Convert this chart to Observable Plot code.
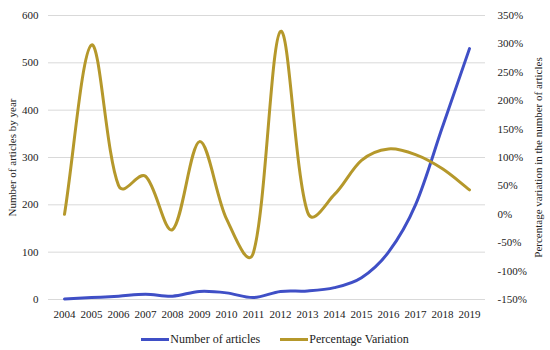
<!DOCTYPE html>
<html>
<head>
<meta charset="utf-8">
<script src="https://cdn.jsdelivr.net/npm/d3@7"></script>
<script src="https://cdn.jsdelivr.net/npm/@observablehq/plot@0.6"></script>
<style>
  html, body { margin: 0; padding: 0; background: #fff; }
  #chart { width: 550px; height: 350px; position: relative; font-family: "Liberation Serif", "DejaVu Serif", serif; }
  #chart svg, #chart svg text { font-family: "Liberation Serif", "DejaVu Serif", serif !important; }
  .legend { display: flex; justify-content: center; align-items: center; height: 22px; font-size: 12px; color: #222; gap: 20px; }
  .legend .item { display: flex; align-items: center; }
  .legend .sw { display: inline-block; width: 28px; height: 3px; margin-right: 1px; }
</style>
</head>
<body>
<div id="chart"></div>
<script>
const years = ["2004","2005","2006","2007","2008","2009","2010","2011","2012","2013","2014","2015","2016","2017","2018","2019"];
const articles = [1, 4, 7, 11, 7, 17, 14, 4, 17, 18, 25, 46, 100, 200, 365, 530];
const pctVariation = [0, 298, 51, 67, -27, 128, -8, -67, 322, 4, 35, 95, 115, 105, 80, 43];
const leftTicks = [0, 100, 200, 300, 400, 500, 600];
const rightTicks = [-150, -100, -50, 0, 50, 100, 150, 200, 250, 300, 350];
const seriesNames = ["Number of articles", "Percentage Variation"];
const colors = ["#3F4FC6", "#B5982B"];

// map right-axis percentage onto the left scale domain [0, 600]
const pctToLeft = p => (p + 150) / 500 * 600;
const leftToPct = v => v / 600 * 500 - 150;

// spreadsheet-style smoothed line: Bezier segments whose tangents follow the
// neighbouring points, with handle lengths weighted by segment lengths
function smoothCurve(context) {
  let pts = [];
  return {
    areaStart() {}, areaEnd() {},
    lineStart() { pts = []; },
    point(x, y) { pts.push([+x, +y]); },
    lineEnd() {
      const n = pts.length;
      if (!n) return;
      context.moveTo(pts[0][0], pts[0][1]);
      const dist = (a, b) => Math.sqrt(Math.hypot(b[0] - a[0], b[1] - a[1]));
      for (let i = 0; i < n - 1; i++) {
        const p0 = pts[Math.max(i - 1, 0)], p1 = pts[i], p2 = pts[i + 1], p3 = pts[Math.min(i + 2, n - 1)];
        const d01 = dist(p0, p1), d12 = dist(p1, p2), d23 = dist(p2, p3);
        const f1 = d12 / ((d01 + d12) || 1) / 3, f2 = d12 / ((d12 + d23) || 1) / 3;
        context.bezierCurveTo(
          p1[0] + (p2[0] - p0[0]) * f1, p1[1] + (p2[1] - p0[1]) * f1,
          p2[0] - (p3[0] - p1[0]) * f2, p2[1] - (p3[1] - p1[1]) * f2,
          p2[0], p2[1]);
      }
    }
  };
}

const artData = years.map((y, i) => ({year: y, value: articles[i]}));
const pctData = years.map((y, i) => ({year: y, value: pctToLeft(pctVariation[i])}));

const plot = Plot.plot({
  width: 550,
  height: 328,
  marginTop: 15,
  marginBottom: 29,
  marginLeft: 48,
  marginRight: 65,
  style: {fontSize: "11px", color: "#222", background: "#fff"},
  x: {type: "point", domain: years, padding: 0.5, axis: null},
  y: {domain: [0, 600], axis: null},
  marks: [
    Plot.gridY(leftTicks, {stroke: "#d9d9d9", strokeOpacity: 1, strokeWidth: 1}),
    Plot.axisX({tickSize: 0, tickPadding: 11, fontSize: 11, label: null}),
    Plot.axisY(leftTicks, {anchor: "left", tickSize: 0, tickPadding: 10, fontSize: 11,
      label: "Number of articles by year", labelAnchor: "center", labelArrow: false, labelOffset: 40}),
    Plot.axisY(rightTicks.map(pctToLeft), {anchor: "right", tickSize: 0, tickPadding: 12, fontSize: 11,
      tickFormat: v => Math.round(leftToPct(v)) + "%",
      label: "Percentage variation in the number of articles", labelAnchor: "center", labelArrow: false, labelOffset: 56}),
    Plot.line(artData, {x: "year", y: "value", stroke: colors[0], strokeWidth: 3, curve: smoothCurve}),
    Plot.line(pctData, {x: "year", y: "value", stroke: colors[1], strokeWidth: 3, curve: smoothCurve})
  ]
});

const root = document.getElementById("chart");
root.appendChild(plot);
const legend = document.createElement("div");
legend.className = "legend";
seriesNames.forEach((name, i) => {
  const item = document.createElement("span");
  item.className = "item";
  const sw = document.createElement("span");
  sw.className = "sw";
  sw.style.background = colors[i];
  item.appendChild(sw);
  item.appendChild(document.createTextNode(name));
  legend.appendChild(item);
});
root.appendChild(legend);
</script>
</body>
</html>
